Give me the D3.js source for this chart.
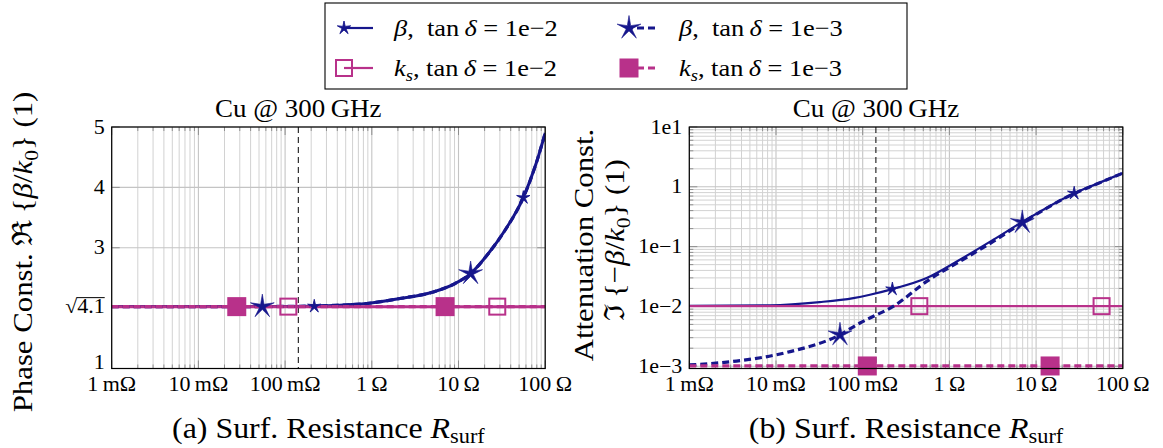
<!DOCTYPE html>
<html><head><meta charset="utf-8">
<script src="https://cdn.jsdelivr.net/npm/d3@7"></script>
<style>body{margin:0;background:#fff} svg{display:block}</style>
</head><body>
<svg id="c" width="1163" height="448"></svg>
<script>
// ---------- data ----------
const R_tickValues = [1e-3, 1e-2, 1e-1, 1, 10, 100];
const R_tickLabels = ["1\u2009m\u03A9", "10\u2009m\u03A9", "100\u2009m\u03A9", "1\u2009\u03A9", "10\u2009\u03A9", "100\u2009\u03A9"];
const leftYTickValues = [1, 2.0248, 3, 4, 5];
const leftYTickLabels = ["1", "\u221A4.1", "3", "4", "5"];
const rightYTickValues = [1e-3, 1e-2, 1e-1, 1, 10];
const rightYTickLabels = ["1e\u22123", "1e\u22122", "1e\u22121", "1", "1e1"];
const R_skinRef = 0.142; // dashed reference line (Cu @ 300 GHz)

// (a) real part of beta/k0
const R_betaRe = [0.001, 0.01, 0.1, 0.36, 0.87, 2.11, 5.12, 9.1, 13.8, 22.1, 34.4, 55.9, 76.3, 100];
const betaRe_tan1e2 = [2.025, 2.025, 2.028, 2.045, 2.076, 2.159, 2.268, 2.407, 2.573, 2.904, 3.29, 3.83, 4.34, 4.9];
const betaRe_tan1e3 = [2.025, 2.025, 2.028, 2.045, 2.076, 2.159, 2.268, 2.407, 2.573, 2.904, 3.29, 3.83, 4.34, 4.9];
const R_ks = [0.001, 100];
const ksRe_tan1e2 = [2.0248, 2.0248];
const ksRe_tan1e3 = [2.0248, 2.0248];
// marker positions (a)
const mkA_beta1e2 = [[0.217, 2.03], [55.9, 3.83]];
const mkA_beta1e3 = [[0.0546, 2.025], [13.8, 2.573]];
const mkA_ks1e2 = [[0.109, 2.0248], [28.0, 2.0248]];
const mkA_ks1e3 = [[0.0277, 2.0248], [7.0, 2.0248]];

// (b) imaginary part of -beta/k0
const R_betaIm_1e2 = [0.001, 0.0085, 0.032, 0.078, 0.121, 0.22, 0.547, 1.32, 3.21, 6.93, 26.9, 50, 100];
const betaIm_tan1e2 = [0.0102, 0.0104, 0.0118, 0.0138, 0.0157, 0.0195, 0.0298, 0.0604, 0.13, 0.258, 0.767, 1.12, 1.7];
const R_betaIm_1e3 = [0.001, 0.0035, 0.0133, 0.0547, 0.093, 0.121, 0.225, 0.547, 1.32, 3.21, 6.93, 26.9, 50, 100];
const betaIm_tan1e3 = [0.00105, 0.00122, 0.0017, 0.00336, 0.00528, 0.0064, 0.0100, 0.0262, 0.0566, 0.122, 0.25, 0.76, 1.11, 1.69];
const ksIm_tan1e2 = [0.0101, 0.0101];
const ksIm_tan1e3 = [0.00101, 0.00101];
const mkB_beta1e2 = [[0.22, 0.0195], [27.5, 0.78]];
const mkB_beta1e3 = [[0.0547, 0.00336], [6.93, 0.254]];
const mkB_ks1e2 = [[0.45, 0.0101], [56.9, 0.0101]];
const mkB_ks1e3 = [[0.113, 0.00101], [14.5, 0.00101]];

// ---------- style ----------
const FONT = "'Liberation Serif','DejaVu Serif',serif";
const SX = 1.1;           // horizontal widening (Computer-Modern-like proportions)
const BLUE = "#16168c";
const PINK = "#b8318a";
const DASH = "7,4";

const svg = d3.select("#c");
svg.append("rect").attr("width", 1163).attr("height", 448).attr("fill", "#fff");

function label(parent, x, y, size, anchor, rot) {
  const g = parent.append("g").attr("transform", `translate(${x},${y})` + (rot ? ` rotate(${rot})` : "") + ` scale(${SX},1)`);
  const t = g.append("text").attr("x", 0).attr("y", 0).attr("text-anchor", anchor)
    .attr("font-family", FONT).attr("font-size", size).attr("fill", "#000");
  return { g, t };
}
function sub(t, str, size, italic, k) {
  const s = t.append("tspan").attr("font-size", size * 0.7).attr("dy", size * (k || 0.2)).text(str);
  if (italic) s.attr("font-style", "italic");
  return s;
}

const pTop = 127, pBot = 368.5;
const panels = [
  { id: "a", x0: 111.7, x1: 545.2, y: d3.scaleLinear().domain([1, 5]).range([pBot, pTop]),
    yTicks: leftYTickValues, yLabels: leftYTickLabels, logY: false, caption: "(a)" },
  { id: "b", x0: 689.3, x1: 1122.8, y: d3.scaleLog().domain([9.16e-4, 10]).range([pBot, pTop]),
    yTicks: rightYTickValues, yLabels: rightYTickLabels, logY: true, caption: "(b)" }
];

function starPath(r, ri) {
  const pts = [];
  for (let i = 0; i < 10; i++) {
    const a = -Math.PI / 2 + i * Math.PI / 5;
    const rr = i % 2 === 0 ? r : ri;
    pts.push([rr * Math.cos(a), rr * Math.sin(a)]);
  }
  return "M" + pts.map(p => p[0].toFixed(2) + "," + p[1].toFixed(2)).join("L") + "Z";
}
function drawMarker(g, type, cx, cy) {
  if (type === "starSmall") {
    g.append("path").attr("d", starPath(7, 2.0)).attr("transform", `translate(${cx},${cy})`)
      .attr("fill", BLUE).attr("stroke", BLUE).attr("stroke-width", 0.9).attr("stroke-linejoin", "round");
  } else if (type === "starBig") {
    g.append("path").attr("d", starPath(12.5, 2.9)).attr("transform", `translate(${cx},${cy})`)
      .attr("fill", BLUE).attr("stroke", BLUE).attr("stroke-width", 0.6);
  } else if (type === "sqOpen") {
    g.append("rect").attr("x", cx - 8).attr("y", cy - 8).attr("width", 16).attr("height", 16)
      .attr("fill", "none").attr("stroke", PINK).attr("stroke-width", 2);
  } else if (type === "sqFill") {
    g.append("rect").attr("x", cx - 9.5).attr("y", cy - 9.5).attr("width", 19).attr("height", 19)
      .attr("fill", PINK);
  }
}

panels.forEach(p => {
  const x = d3.scaleLog().domain([1e-3, 1e2]).range([p.x0, p.x1]);
  const y = p.y;
  const g = svg.append("g");
  const minorX = [];
  for (let e = -3; e < 2; e++) for (let k = 2; k <= 9; k++) minorX.push(k * Math.pow(10, e));
  g.selectAll(null).data(minorX).enter().append("line")
    .attr("x1", d => x(d)).attr("x2", d => x(d)).attr("y1", pTop).attr("y2", pBot)
    .attr("stroke", "#d2d2d2").attr("stroke-width", 1);
  g.selectAll(null).data(R_tickValues).enter().append("line")
    .attr("x1", d => x(d)).attr("x2", d => x(d)).attr("y1", pTop).attr("y2", pBot)
    .attr("stroke", "#c4c4c4").attr("stroke-width", 1.1);
  let minorY = [];
  if (p.logY) {
    for (let e = -4; e < 1; e++) for (let k = 2; k <= 9; k++) {
      const v = k * Math.pow(10, e);
      if (v > y.domain()[0] && v < y.domain()[1]) minorY.push(v);
    }
  }
  g.selectAll(null).data(minorY).enter().append("line")
    .attr("x1", p.x0).attr("x2", p.x1).attr("y1", d => y(d)).attr("y2", d => y(d))
    .attr("stroke", "#d2d2d2").attr("stroke-width", 1);
  g.selectAll(null).data(p.yTicks).enter().append("line")
    .attr("x1", p.x0).attr("x2", p.x1).attr("y1", d => y(d)).attr("y2", d => y(d))
    .attr("stroke", "#c4c4c4").attr("stroke-width", 1.1);
  const tk = g.append("g").attr("stroke", "#888").attr("stroke-width", 0.9);
  R_tickValues.forEach(v => {
    tk.append("line").attr("x1", x(v)).attr("x2", x(v)).attr("y1", pBot).attr("y2", pBot - 8);
    tk.append("line").attr("x1", x(v)).attr("x2", x(v)).attr("y1", pTop).attr("y2", pTop + 8);
  });
  minorX.forEach(v => {
    tk.append("line").attr("x1", x(v)).attr("x2", x(v)).attr("y1", pBot).attr("y2", pBot - 4);
    tk.append("line").attr("x1", x(v)).attr("x2", x(v)).attr("y1", pTop).attr("y2", pTop + 4);
  });
  p.yTicks.forEach(v => {
    tk.append("line").attr("x1", p.x0).attr("x2", p.x0 + 8).attr("y1", y(v)).attr("y2", y(v));
    tk.append("line").attr("x1", p.x1).attr("x2", p.x1 - 8).attr("y1", y(v)).attr("y2", y(v));
  });
  minorY.forEach(v => {
    tk.append("line").attr("x1", p.x0).attr("x2", p.x0 + 4).attr("y1", y(v)).attr("y2", y(v));
    tk.append("line").attr("x1", p.x1).attr("x2", p.x1 - 4).attr("y1", y(v)).attr("y2", y(v));
  });

  g.append("line").attr("x1", x(R_skinRef)).attr("x2", x(R_skinRef)).attr("y1", pTop).attr("y2", pBot)
    .attr("stroke", "#000").attr("stroke-width", 1).attr("stroke-dasharray", "6,4");

  svg.append("clipPath").attr("id", "clip" + p.id).append("rect")
    .attr("x", p.x0).attr("y", pTop).attr("width", p.x1 - p.x0).attr("height", pBot - pTop);
  const lg = svg.append("g").attr("clip-path", `url(#clip${p.id})`);
  const line = d3.line().x(d => x(d[0])).y(d => y(d[1])).curve(d3.curveMonotoneX);
  const zip = (a, b) => a.map((v, i) => [v, b[i]]);

  let s1, s2, s3, s4, m1, m2, m3, m4;
  if (p.id === "a") {
    s1 = zip(R_betaRe, betaRe_tan1e2); s3 = zip(R_betaRe, betaRe_tan1e3);
    s2 = zip(R_ks, ksRe_tan1e2); s4 = zip(R_ks, ksRe_tan1e3);
    m1 = mkA_beta1e2; m2 = mkA_ks1e2; m3 = mkA_beta1e3; m4 = mkA_ks1e3;
  } else {
    s1 = zip(R_betaIm_1e2, betaIm_tan1e2); s3 = zip(R_betaIm_1e3, betaIm_tan1e3);
    s2 = zip(R_ks, ksIm_tan1e2); s4 = zip(R_ks, ksIm_tan1e3);
    m1 = mkB_beta1e2; m2 = mkB_ks1e2; m3 = mkB_beta1e3; m4 = mkB_ks1e3;
  }
  const wA = p.id === "a" ? 3 : 2.2;
  lg.append("path").attr("d", line(s1)).attr("fill", "none").attr("stroke", BLUE).attr("stroke-width", wA);
  lg.append("path").attr("d", line(s2)).attr("fill", "none").attr("stroke", PINK).attr("stroke-width", p.id === "a" ? 3 : 2.2);
  lg.append("path").attr("d", line(s3)).attr("fill", "none").attr("stroke", BLUE).attr("stroke-width", 3.2).attr("stroke-dasharray", DASH);
  lg.append("path").attr("d", line(s4)).attr("fill", "none").attr("stroke", PINK).attr("stroke-width", 3.2).attr("stroke-dasharray", DASH);

  const mg = svg.append("g");
  m1.forEach(d => drawMarker(mg, "starSmall", x(d[0]), y(d[1])));
  m2.forEach(d => drawMarker(mg, "sqOpen", x(d[0]), y(d[1])));
  m3.forEach(d => drawMarker(mg, "starBig", x(d[0]), y(d[1])));
  m4.forEach(d => drawMarker(mg, "sqFill", x(d[0]), y(d[1])));

  svg.append("rect").attr("x", p.x0).attr("y", pTop).attr("width", p.x1 - p.x0).attr("height", pBot - pTop)
    .attr("fill", "none").attr("stroke", "#000").attr("stroke-width", 1.2);

  // tick labels
  R_tickValues.forEach((v, i) => {
    label(svg, x(v), 391, 20, "middle").t.text(R_tickLabels[i]);
  });
  p.yTicks.forEach((v, i) => {
    const lift = (p.id === "a" && i === 0) ? 0 : 6.5;
    const L = label(svg, p.x0 - 7, y(v) + lift, 20, "end");
    L.t.text(p.yLabels[i]);
    if (p.yLabels[i].charAt(0) === "\u221A") {
      const bb = L.t.node().getBBox();
      const w = L.t.node().getSubStringLength(1, p.yLabels[i].length - 1);
      L.g.append("line").attr("x1", bb.x + bb.width - w - 0.5).attr("x2", bb.x + bb.width)
        .attr("y1", -15.5).attr("y2", -15.5).attr("stroke", "#000").attr("stroke-width", 1);
    }
  });
  // title
  label(svg, x(R_skinRef), 117, 24.5, "middle").t.text("Cu @ 300\u2009GHz");
  // caption
  const cap = label(svg, (p.x0 + p.x1) / 2, 438, 29, "middle").t;
  cap.append("tspan").text(p.caption + " Surf. Resistance ");
  cap.append("tspan").attr("font-style", "italic").text("R");
  sub(cap, "surf", 29, false, 0.16);
});

// y labels
{
  const FS = 28;
  const t = label(svg, 32, 252, FS, "middle", -90).t;
  t.append("tspan").text("Phase Const. \u211C\u2009{");
  t.append("tspan").attr("font-style", "italic").text("\u03B2");
  t.append("tspan").text("/");
  t.append("tspan").attr("font-style", "italic").text("k");
  sub(t, "0", FS, false);
  t.append("tspan").attr("dy", -FS * 0.2).text("} (1)");

  label(svg, 593, 245, FS, "middle", -90).t.text("Attenuation Const.");
  const t2 = label(svg, 624, 240, FS, "middle", -90).t;
  t2.append("tspan").text("\u2111\u2009{\u2212");
  t2.append("tspan").attr("font-style", "italic").text("\u03B2");
  t2.append("tspan").text("/");
  t2.append("tspan").attr("font-style", "italic").text("k");
  sub(t2, "0", FS, false);
  t2.append("tspan").attr("dy", -FS * 0.2).text("} (1)");
}

// legend
{
  const lg = svg.append("g");
  lg.append("rect").attr("x", 325).attr("y", 3).attr("width", 582).attr("height", 86)
    .attr("fill", "#fff").attr("stroke", "#000").attr("stroke-width", 1.1);
  const entries = [
    { mx: 344, my: 28, x2: 373, color: BLUE, dash: null, w: 2.2, mk: "starSmall", tx: 394, sym: "beta", tan: "1e\u22122" },
    { mx: 629, my: 28, x2: 655, color: BLUE, dash: DASH, w: 3.2, mk: "starBig", tx: 679, sym: "beta", tan: "1e\u22123" },
    { mx: 344, my: 68, x2: 373, color: PINK, dash: null, w: 2.2, mk: "sqOpen", tx: 394, sym: "ks", tan: "1e\u22122" },
    { mx: 629, my: 68, x2: 655, color: PINK, dash: DASH, w: 3.2, mk: "sqFill", tx: 679, sym: "ks", tan: "1e\u22123" }
  ];
  const FS = 24;
  entries.forEach(e => {
    const l = lg.append("line").attr("x1", e.x2).attr("x2", e.mx).attr("y1", e.my).attr("y2", e.my)
      .attr("stroke", e.color).attr("stroke-width", e.w);
    if (e.dash) l.attr("stroke-dasharray", e.dash);
    drawMarker(lg, e.mk, e.mx, e.my);
    const t = label(lg, e.tx, e.my + 8, FS, "start").t;
    if (e.sym === "beta") {
      t.append("tspan").attr("font-style", "italic").text("\u03B2");
      t.append("tspan").text(",\u2002tan\u2009");
    } else {
      t.append("tspan").attr("font-style", "italic").text("k");
      sub(t, "s", FS, true);
      t.append("tspan").attr("dy", -FS * 0.2).text(", tan\u2009");
    }
    t.append("tspan").attr("font-style", "italic").text("\u03B4");
    t.append("tspan").text(" = " + e.tan);
  });
}
</script>
</body></html>
